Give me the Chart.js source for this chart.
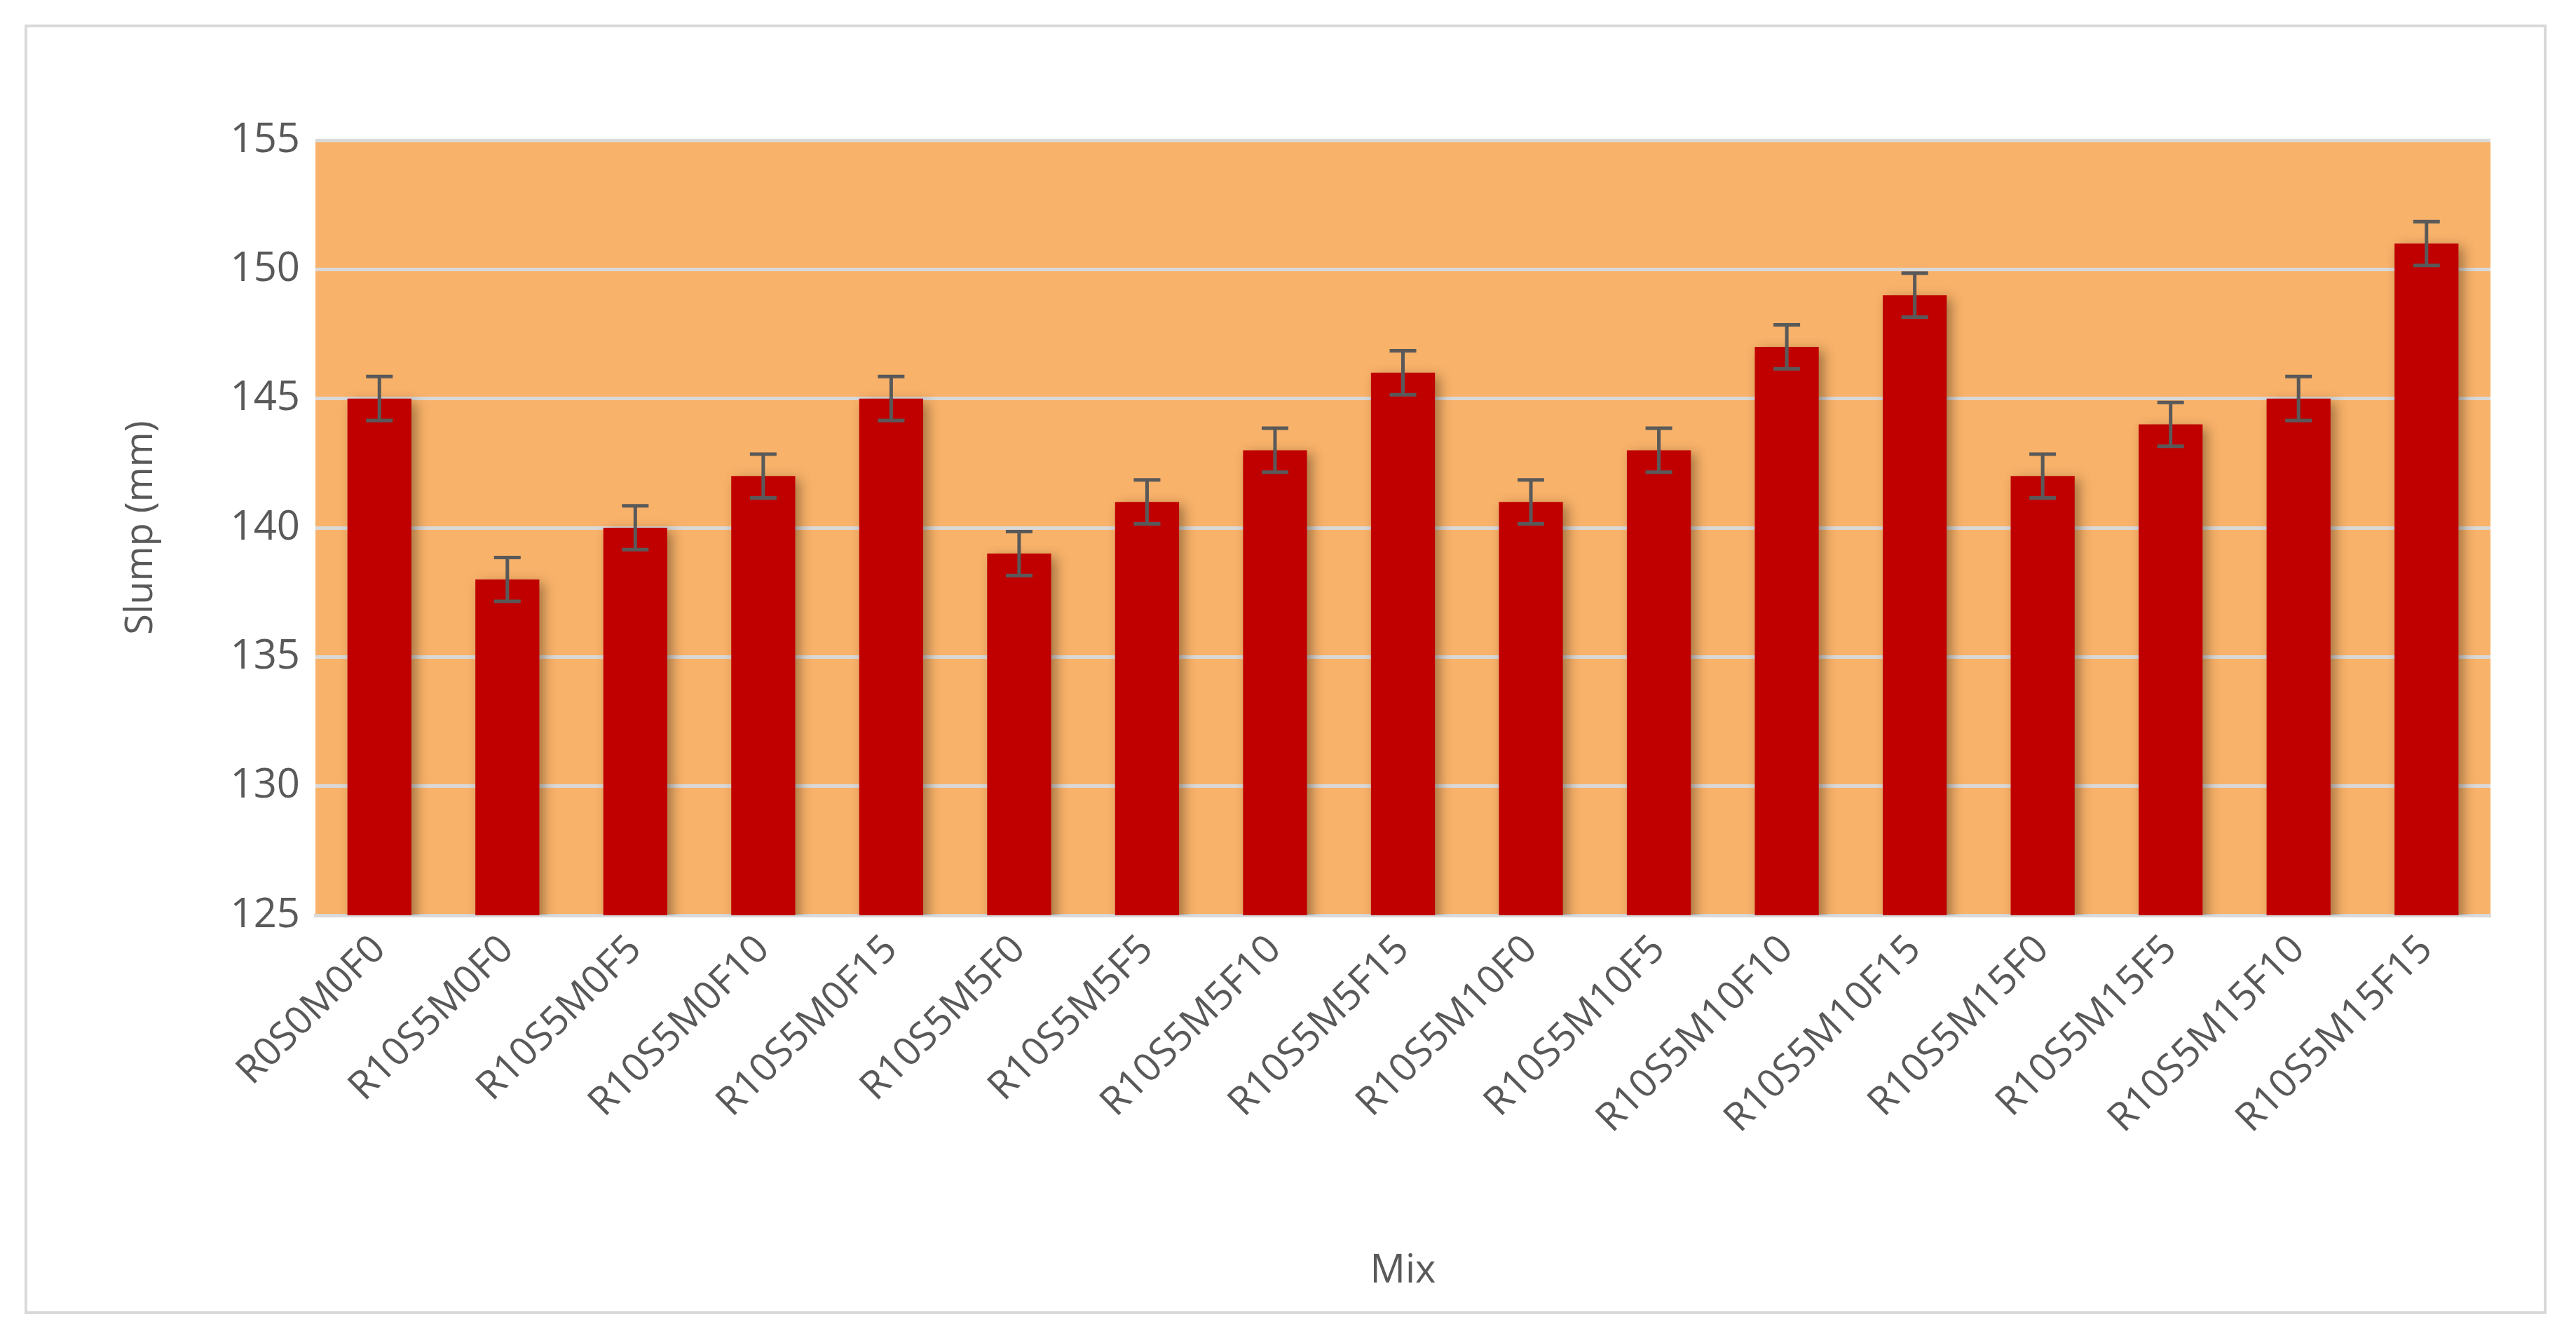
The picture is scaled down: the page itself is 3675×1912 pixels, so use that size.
<!DOCTYPE html>
<html>
<head>
<meta charset="utf-8">
<script src="https://cdn.jsdelivr.net/npm/chart.js@4"></script>
<style>
  body { margin: 0; background: #fff; }
  #frame { position: absolute; left: 35px; top: 35px; width: 3590px; height: 1832px; border: 4px solid #d9d9d9; }
  #wrap { position: absolute; left: 0; top: 0; width: 3675px; height: 1912px; }
</style>
</head>
<body>
<div id="frame"></div>
<div id="wrap"><canvas id="grafico"></canvas></div>
<script>
const mezclas = ['R0S0M0F0', 'R10S5M0F0', 'R10S5M0F5', 'R10S5M0F10', 'R10S5M0F15', 'R10S5M5F0', 'R10S5M5F5',
  'R10S5M5F10', 'R10S5M5F15', 'R10S5M10F0', 'R10S5M10F5', 'R10S5M10F10', 'R10S5M10F15', 'R10S5M15F0',
  'R10S5M15F5', 'R10S5M15F10', 'R10S5M15F15'];
const slump = [145, 138, 140, 142, 145, 139, 141, 143, 146, 141, 143, 147, 149, 142, 144, 145, 151];
const errores = [0.85, 0.85, 0.85, 0.85, 0.85, 0.85, 0.85, 0.85, 0.85, 0.85, 0.85, 0.85, 0.85, 0.85, 0.85, 0.85, 0.85];

const fondoPlot = {
  id: 'fondoPlot',
  beforeDraw(chart) {
    const { ctx, chartArea: a } = chart;
    ctx.save();
    ctx.fillStyle = '#f8b26a';
    ctx.fillRect(a.left, a.top, a.right - a.left, a.bottom - a.top);
    ctx.restore();
  },
  beforeDatasetDraw(chart) {
    const ctx = chart.ctx;
    ctx.save();
    ctx.shadowColor = 'rgba(60,40,20,0.45)';
    ctx.shadowBlur = 16;
    ctx.shadowOffsetX = 7;
    ctx.shadowOffsetY = 5;
  },
  afterDatasetDraw(chart) {
    chart.ctx.restore();
  },
  afterDatasetsDraw(chart) {
    const ctx = chart.ctx;
    const y = chart.scales.y;
    const meta = chart.getDatasetMeta(0);
    ctx.save();
    ctx.strokeStyle = '#595959';
    ctx.lineWidth = 5;
    meta.data.forEach((bar, i) => {
      const x = bar.x;
      const y1 = y.getPixelForValue(slump[i] + errores[i]);
      const y2 = y.getPixelForValue(slump[i] - errores[i]);
      ctx.beginPath();
      ctx.moveTo(x, y1); ctx.lineTo(x, y2);
      ctx.moveTo(x - 19, y1); ctx.lineTo(x + 19, y1);
      ctx.moveTo(x - 19, y2); ctx.lineTo(x + 19, y2);
      ctx.stroke();
    });
    ctx.restore();
  }
};

Chart.defaults.font.family = '"Open Sans", "Noto Sans", sans-serif';

new Chart(document.getElementById('grafico'), {
  type: 'bar',
  data: {
    labels: mezclas,
    datasets: [{
      data: slump,
      backgroundColor: '#c00000',
      barPercentage: 0.5,
      categoryPercentage: 1.0
    }]
  },
  options: {
    responsive: true,
    maintainAspectRatio: false,
    animation: false,
    layout: { padding: { left: 165, right: 122, top: 200, bottom: 60 } },
    plugins: { legend: { display: false }, tooltip: { enabled: false } },
    scales: {
      y: {
        min: 125, max: 155,
        ticks: { stepSize: 5, color: '#595959', font: { size: 58 }, padding: 22 },
        grid: { color: '#d9d9d9', lineWidth: 5, drawTicks: false },
        border: { display: false },
        title: { display: true, text: 'Slump (mm)', color: '#595959', font: { size: 54 } },
        afterFit(s) { s.width = 285; }
      },
      x: {
        ticks: { color: '#595959', font: { size: 56 }, maxRotation: 45, minRotation: 45, padding: 8 },
        grid: { display: false },
        border: { color: '#d9d9d9', width: 5 },
        title: { display: true, text: 'Mix', color: '#595959', font: { size: 56 } },
        afterFit(s) { s.height = 546; }
      }
    }
  },
  plugins: [fondoPlot]
});
</script>
</body>
</html>
